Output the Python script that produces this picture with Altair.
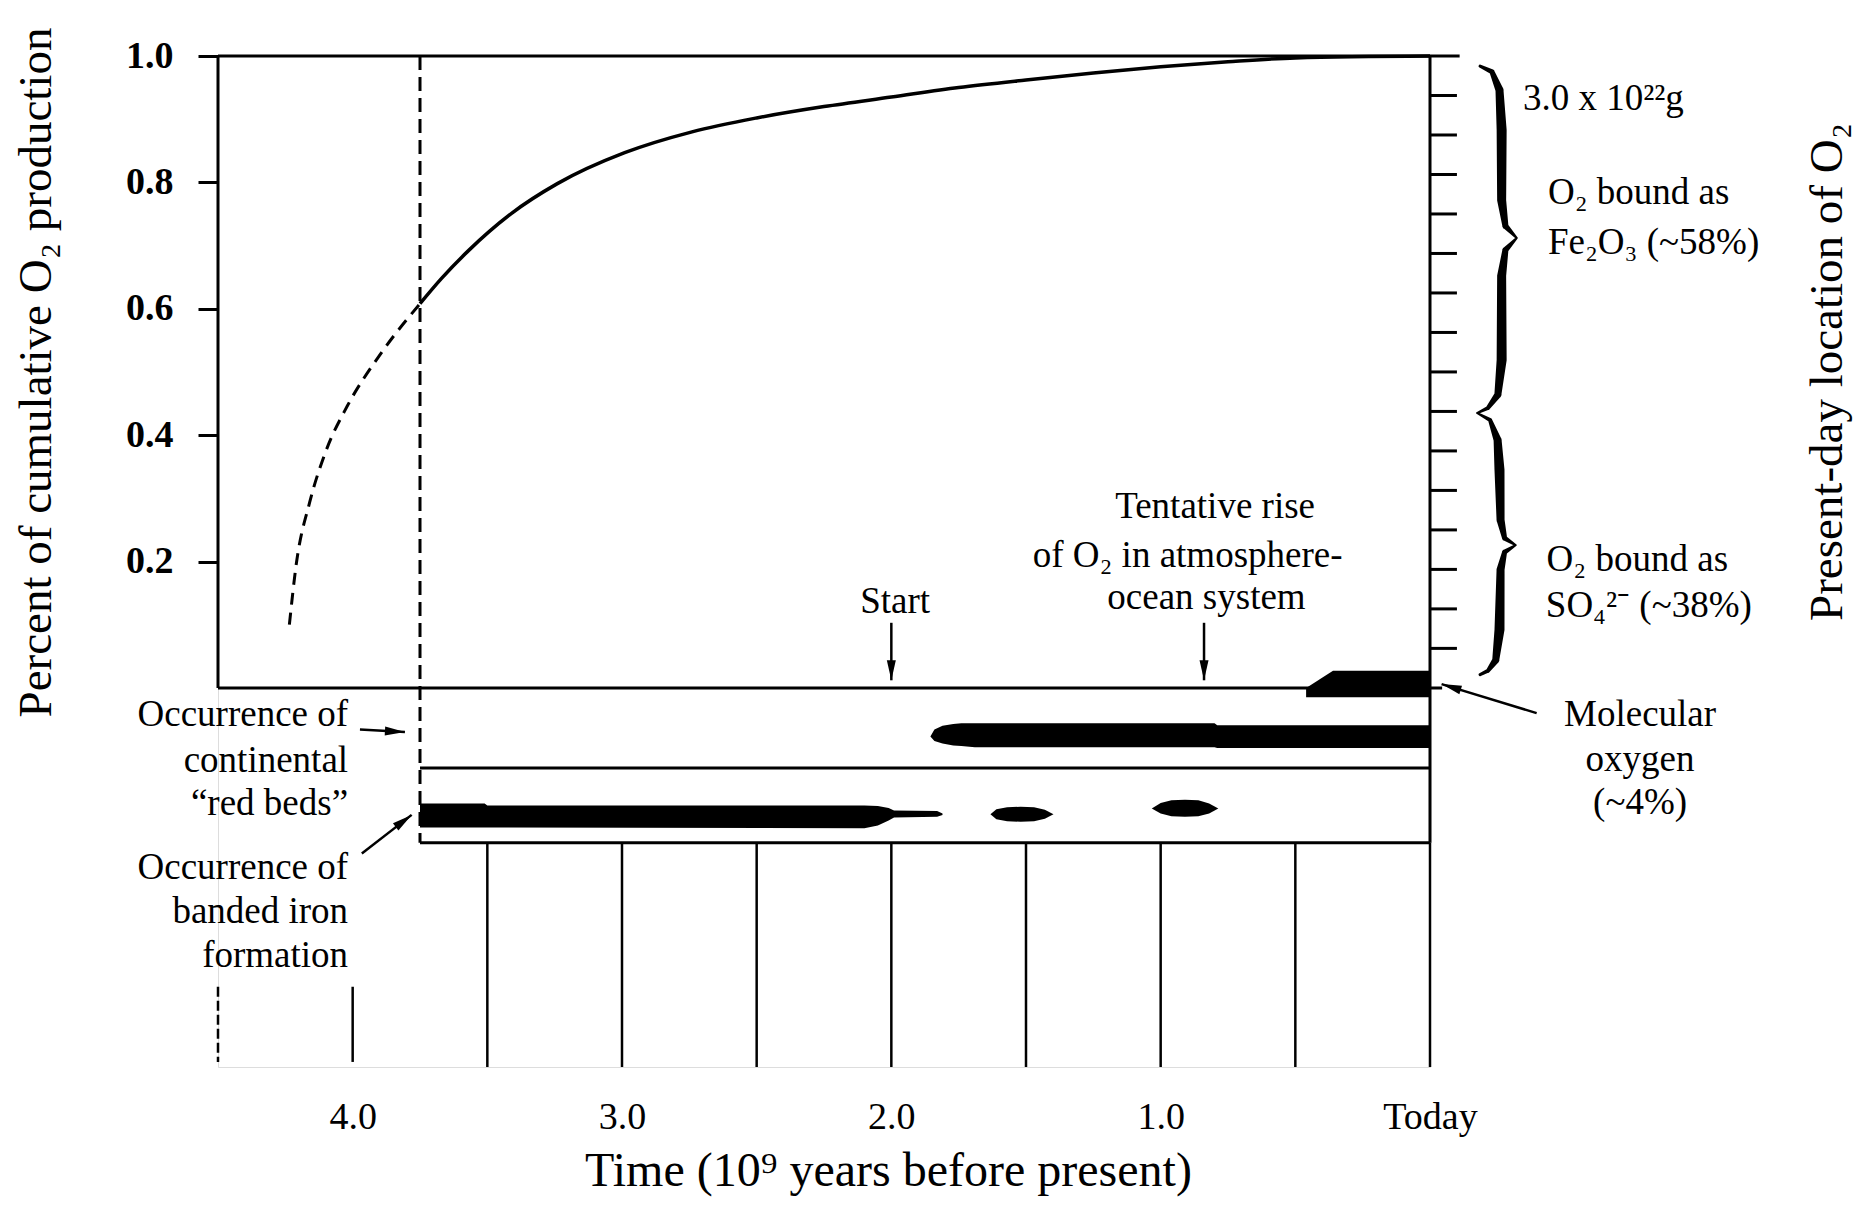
import altair as alt
import pandas as pd

FONT = "Liberation Serif"

# ---------------- data (t = 10^9 years before present, v = fraction of cumulative O2) ----------------
curve_dash_t = [4.235, 4.21, 4.16, 4.10, 4.02, 3.904, 3.75]
curve_dash_v = [0.100, 0.194, 0.293, 0.374, 0.446, 0.524, 0.608]
curve_solid_t = [3.75, 3.67, 3.57, 3.41, 3.24, 2.99, 2.74, 2.5, 2.25, 2.0, 1.75, 1.5, 1.25, 1.0, 0.75, 0.5, 0.0]
curve_solid_v = [0.608, 0.648, 0.692, 0.751, 0.798, 0.847, 0.880, 0.902, 0.920, 0.935, 0.950, 0.962, 0.973,
                 0.983, 0.991, 0.997, 1.0]

x_tick_values = [4.0, 3.0, 2.0, 1.0, 0.0]
y_tick_values = [0.2, 0.4, 0.6, 0.8, 1.0]
right_tick_values = [0.0625, 0.125, 0.1875, 0.25, 0.3125, 0.375, 0.4375, 0.5,
                     0.5625, 0.625, 0.6875, 0.75, 0.8125, 0.875, 0.9375]

# molecular oxygen band
o2_t = [0.46, 0.36, 0.0]
o2_top = [0.0, 0.027, 0.027]
o2_bot = [-0.015, -0.015, -0.015]
# continental red beds
rb_t = [1.855, 1.84, 1.81, 1.77, 1.74, 1.69, 0.80, 0.79, 0.0]
rb_top = [-0.077, -0.066, -0.060, -0.057, -0.056, -0.056, -0.056, -0.059, -0.059]
rb_bot = [-0.077, -0.084, -0.088, -0.091, -0.092, -0.094, -0.094, -0.095, -0.095]
# banded iron formation
bif_t = [3.75, 3.51, 3.50, 2.10, 2.05, 2.01, 1.99, 1.83, 1.81]
bif_top = [-0.183, -0.183, -0.186, -0.186, -0.187, -0.190, -0.194, -0.195, -0.199]
bif_bot = [-0.221, -0.221, -0.221, -0.222, -0.218, -0.210, -0.205, -0.204, -0.201]
blob1_t = [1.632, 1.61, 1.57, 1.52, 1.47, 1.43, 1.398]
blob1_top = [-0.200, -0.192, -0.189, -0.188, -0.189, -0.193, -0.200]
blob1_bot = [-0.200, -0.208, -0.211, -0.212, -0.211, -0.207, -0.200]
blob2_t = [1.033, 1.00, 0.96, 0.91, 0.86, 0.82, 0.786]
blob2_top = [-0.191, -0.182, -0.178, -0.177, -0.178, -0.183, -0.191]
blob2_bot = [-0.191, -0.199, -0.203, -0.204, -0.203, -0.199, -0.191]

# frame lines
frame_t1 = [4.5, 4.5, 0.0, 4.5, 3.75, 3.75]
frame_t2 = [-0.11, 4.5, 0.0, -0.045, 0.0, 0.0]
frame_v1 = [1.0, 0.0, 1.0, 0.0, -0.127, -0.245]
frame_v2 = [1.0, 1.0, -0.245, 0.0, -0.127, -0.245]

# time grid lines below the panels
long_tick_t = [3.5, 3.0, 2.5, 2.0, 1.5, 1.0, 0.5, 0.0]
short_tick_t = [4.0]
dotted_tick_t = [4.5]

# braces on the right
brace_top_t = [-0.186, -0.230, -0.258, -0.266, -0.266, -0.280, -0.322, -0.280, -0.266, -0.266, -0.252, -0.215, -0.176]
brace_top_v = [0.984, 0.975, 0.946, 0.883, 0.772, 0.731, 0.712, 0.693, 0.652, 0.519, 0.464, 0.443, 0.435]
brace_top_w = [3, 5, 8, 10, 9, 6, 2, 6, 9, 10, 7, 4, 2]
brace_bot_t = [-0.176, -0.223, -0.251, -0.258, -0.262, -0.277, -0.318, -0.277, -0.262, -0.258, -0.244, -0.215, -0.186]
brace_bot_v = [0.435, 0.424, 0.392, 0.345, 0.266, 0.237, 0.226, 0.215, 0.187, 0.092, 0.044, 0.027, 0.021]
brace_bot_w = [2, 4, 8, 10, 8, 5, 2, 5, 8, 10, 7, 4, 3]

# arrows (tail -> head)
arrow_t1 = [2.0, 0.839, 3.973, 3.966, -0.396]
arrow_v1 = [0.103, 0.103, -0.066, -0.262, -0.040]
arrow_t2 = [2.0, 0.839, 3.806, 3.781, -0.043]
arrow_v2 = [0.012, 0.012, -0.070, -0.201, 0.006]
arrow_angle = [0, 0, 273, 233, 107]

# annotation texts
left_labels = ["3.0 x 10²²g", "O₂ bound as", "Fe₂O₃ (~58%)", "O₂ bound as", "SO₄²⁻ (~38%)"]
left_t = [-0.345, -0.438, -0.438, -0.433, -0.430]
left_v = [0.932, 0.783, 0.704, 0.203, 0.130]

center_labels = ["Molecular", "oxygen", "(~4%)", "Tentative rise", "of O₂ in atmosphere-", "ocean system", "Start"]
center_t = [-0.780, -0.780, -0.780, 0.798, 0.900, 0.830, 1.986]
center_v = [-0.043, -0.114, -0.182, 0.286, 0.208, 0.143, 0.136]

right_labels = ["Occurrence of", "continental", "“red beds”", "Occurrence of", "banded iron", "formation"]
right_t = [4.017] * 6
right_v = [-0.043, -0.116, -0.184, -0.285, -0.354, -0.424]

side_title = ["Present-day location of O₂"]
side_title_t = [-1.478]
side_title_v = [0.5]

# ---------------- tables ----------------
dash_df = pd.DataFrame({"t": curve_dash_t, "v": curve_dash_v})
solid_df = pd.DataFrame({"t": curve_solid_t, "v": curve_solid_v})


def band(name, t, top, bot):
    return pd.DataFrame({"band": name, "t": t, "top": top, "bot": bot})


bands_df = pd.concat([
    band("o2", o2_t, o2_top, o2_bot),
    band("redbeds", rb_t, rb_top, rb_bot),
    band("bif", bif_t, bif_top, bif_bot),
    band("blob1", blob1_t, blob1_top, blob1_bot),
    band("blob2", blob2_t, blob2_top, blob2_bot),
], ignore_index=True)

frame_df = pd.DataFrame({"t1": frame_t1, "t2": frame_t2, "v1": frame_v1, "v2": frame_v2})
vdash_df = pd.DataFrame({"t1": [3.75], "v1": [1.0], "v2": [-0.245]})
long_df = pd.DataFrame({"t1": long_tick_t, "v1": -0.245, "v2": -0.6})
short_df = pd.DataFrame({"t1": short_tick_t, "v1": -0.473, "v2": -0.592})
dotted_df = pd.DataFrame({"t1": dotted_tick_t, "v1": -0.473, "v2": -0.592})
rtick_df = pd.DataFrame({"v1": right_tick_values, "t1": 0.0, "t2": -0.1})

brace_df = pd.concat([
    pd.DataFrame({"brace": "top", "i": range(len(brace_top_t)), "t": brace_top_t, "v": brace_top_v, "w": brace_top_w}),
    pd.DataFrame({"brace": "bottom", "i": range(len(brace_bot_t)), "t": brace_bot_t, "v": brace_bot_v, "w": brace_bot_w}),
], ignore_index=True)

arrow_df = pd.DataFrame({"t1": arrow_t1, "v1": arrow_v1, "t2": arrow_t2, "v2": arrow_v2, "angle": arrow_angle})
left_df = pd.DataFrame({"label": left_labels, "t": left_t, "v": left_v})
center_df = pd.DataFrame({"label": center_labels, "t": center_t, "v": center_v})
right_df = pd.DataFrame({"label": right_labels, "t": right_t, "v": right_v})
side_df = pd.DataFrame({"label": side_title, "t": side_title_t, "v": side_title_v})

# ---------------- scales / axes ----------------
XS = alt.Scale(domain=[4.5, 0.0], nice=False, zero=False)
YS = alt.Scale(domain=[-0.6, 1.0], nice=False, zero=False)

x_axis = alt.Axis(
    values=x_tick_values,
    labelExpr="datum.value == 0 ? 'Today' : format(datum.value, '.1f')",
    domain=False, ticks=False, tickSize=0, grid=False,
    labelFont=FONT, labelFontSize=38, labelColor="black", labelPadding=50,
    labelBaseline="middle", labelFlush=False, labelOverlap=False,
    title="Time (10⁹ years before present)", titleFont=FONT, titleFontSize=48,
    titleFontWeight="normal", titleColor="black", titleX=670, titleY=104,
    titleAlign="center", titleBaseline="middle",
)
y_axis = alt.Axis(
    values=y_tick_values, format=".1f",
    domain=False, ticks=True, tickSize=20, tickWidth=3, tickColor="black", grid=False,
    labelFont=FONT, labelFontSize=38, labelFontWeight="bold", labelColor="black",
    labelPadding=25, labelBaseline="middle", labelFlush=False, labelOverlap=False,
    title="Percent of cumulative O₂ production", titleFont=FONT, titleFontSize=47,
    titleFontWeight="normal", titleColor="black", titleX=-182, titleY=316,
    titleAngle=270, titleAlign="center", titleBaseline="middle",
)


def X(f):
    return alt.X(f, type="quantitative", scale=XS, axis=x_axis)


def Y(f):
    return alt.Y(f, type="quantitative", scale=YS, axis=y_axis)


ARROW = "M-0.45,-2 L0.45,-2 L0,0 Z"
TXT = 37

layers = []
layers.append(alt.Chart(frame_df).mark_rule(color="black", strokeWidth=3).encode(
    x=X("t1"), x2="t2", y=Y("v1"), y2="v2"))
layers.append(alt.Chart(vdash_df).mark_rule(color="black", strokeWidth=3, strokeDash=[14, 7]).encode(
    x=X("t1"), y=Y("v1"), y2="v2"))
layers.append(alt.Chart(long_df).mark_rule(color="black", strokeWidth=2.5).encode(
    x=X("t1"), y=Y("v1"), y2="v2"))
layers.append(alt.Chart(short_df).mark_rule(color="black", strokeWidth=2.5).encode(
    x=X("t1"), y=Y("v1"), y2="v2"))
layers.append(alt.Chart(dotted_df).mark_rule(color="black", strokeWidth=2.5, strokeDash=[10, 4]).encode(
    x=X("t1"), y=Y("v1"), y2="v2"))
layers.append(alt.Chart(rtick_df).mark_rule(color="black", strokeWidth=3).encode(
    x=X("t1"), x2="t2", y=Y("v1")))
layers.append(alt.Chart(bands_df).mark_area(color="black", opacity=1, interpolate="linear").encode(
    x=X("t"), y=Y("top"), y2="bot", detail="band:N"))
layers.append(alt.Chart(dash_df).mark_line(color="black", strokeWidth=3, strokeDash=[12, 8],
                                            interpolate="monotone").encode(
    x=X("t"), y=Y("v"), order=alt.Order("t", sort="descending")))
layers.append(alt.Chart(solid_df).mark_line(color="black", strokeWidth=3.5, interpolate="monotone").encode(
    x=X("t"), y=Y("v"), order=alt.Order("t", sort="descending")))
layers.append(alt.Chart(brace_df).mark_trail(color="black").encode(
    x=X("t"), y=Y("v"), size=alt.Size("w:Q", scale=None), order="i:Q", detail="brace:N"))
layers.append(alt.Chart(arrow_df).mark_rule(color="black", strokeWidth=2.5).encode(
    x=X("t1"), x2="t2", y=Y("v1"), y2="v2"))
layers.append(alt.Chart(arrow_df).mark_point(shape=ARROW, filled=True, size=400, color="black",
                                             opacity=1, strokeWidth=0).encode(
    x=X("t2"), y=Y("v2"), angle=alt.Angle("angle:Q", scale=None)))
layers.append(alt.Chart(left_df).mark_text(font=FONT, fontSize=TXT, align="left", baseline="middle",
                                           color="black").encode(
    x=X("t"), y=Y("v"), text="label:N"))
layers.append(alt.Chart(center_df).mark_text(font=FONT, fontSize=TXT, align="center", baseline="middle",
                                             color="black").encode(
    x=X("t"), y=Y("v"), text="label:N"))
layers.append(alt.Chart(right_df).mark_text(font=FONT, fontSize=TXT, align="right", baseline="middle",
                                            color="black").encode(
    x=X("t"), y=Y("v"), text="label:N"))
layers.append(alt.Chart(side_df).mark_text(font=FONT, fontSize=47, align="center", baseline="middle",
                                           angle=270, color="black").encode(
    x=X("t"), y=Y("v"), text="label:N"))

chart = alt.layer(*layers).properties(
    width=1212, height=1011,
    padding={"left": 210, "top": 48, "right": 425, "bottom": 130},
    autosize=alt.AutoSizeParams(type="none"),
    background="white",
).configure_view(stroke=None).configure(font=FONT)

chart.save("out.html", embed_options={"renderer": "svg", "actions": False})
